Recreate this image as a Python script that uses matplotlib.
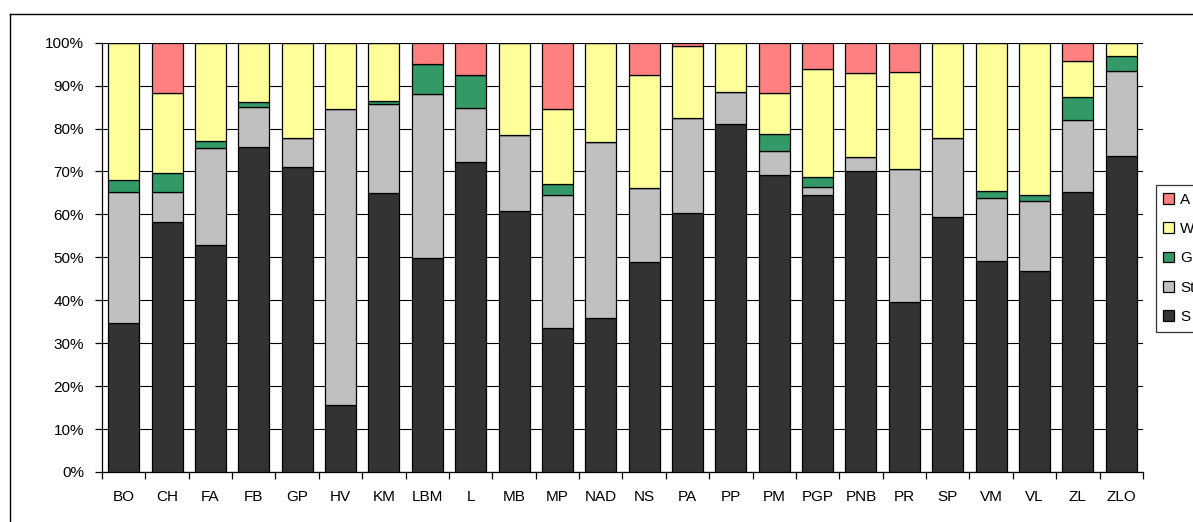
import numpy as np
import matplotlib
matplotlib.use("Agg")
import matplotlib.pyplot as plt
from matplotlib.lines import Line2D
from matplotlib.ticker import PercentFormatter

plt.rcParams['font.family'] = ['Liberation Sans', 'DejaVu Sans']

# Site codes along the x axis
sites = ['BO', 'CH', 'FA', 'FB', 'GP', 'HV', 'KM', 'LBM', 'L', 'MB', 'MP', 'NAD',
         'NS', 'PA', 'PP', 'PM', 'PGP', 'PNB', 'PR', 'SP', 'VM', 'VL', 'ZL', 'ZLO']

# Share of each class per site (percent, stacked bottom to top)
s_vals  = [34.8, 58.2, 52.8, 75.6, 71.0, 15.5, 64.9, 49.9, 72.3, 60.7, 33.6, 35.8,
           49.0, 60.4, 81.0, 69.1, 64.6, 70.0, 39.7, 59.5, 49.2, 46.9, 65.3, 73.7]
st_vals = [30.4, 7.0, 22.7, 9.5, 6.7, 69.1, 20.9, 38.2, 12.5, 17.7, 31.0, 41.0,
           17.2, 22.1, 7.4, 5.7, 1.8, 3.3, 30.9, 18.3, 14.6, 16.3, 16.6, 19.8]
g_vals  = [2.8, 4.4, 1.7, 1.1, 0.0, 0.0, 0.7, 7.0, 7.7, 0.0, 2.6, 0.0,
           0.0, 0.0, 0.0, 3.9, 2.4, 0.0, 0.0, 0.0, 1.7, 1.4, 5.5, 3.3]
w_vals  = [32.0, 18.7, 22.8, 13.8, 22.3, 15.4, 13.5, 0.0, 0.0, 21.6, 17.3, 23.2,
           26.3, 16.8, 11.6, 9.6, 25.1, 19.6, 22.6, 22.2, 34.5, 35.4, 8.4, 3.2]
a_vals  = [0.0, 11.7, 0.0, 0.0, 0.0, 0.0, 0.0, 4.9, 7.5, 0.0, 15.5, 0.0,
           7.5, 0.7, 0.0, 11.7, 6.1, 7.1, 6.8, 0.0, 0.0, 0.0, 4.2, 0.0]

series_names = ['S', 'St', 'G', 'W', 'A']
series_colors = ['#333333', '#C0C0C0', '#339966', '#FFFF99', '#FF8080']

data = np.array([s_vals, st_vals, g_vals, w_vals, a_vals]) / 100.0

fig = plt.figure(figsize=(11.93, 5.22), dpi=100)
ax = fig.add_axes([0.0855, 0.0958, 0.8725, 0.8224])

x = np.arange(len(sites))
bottom = np.zeros(len(sites))
for vals, name, col in zip(data, series_names, series_colors):
    ax.bar(x, vals, width=0.715, bottom=bottom, color=col,
           edgecolor='black', linewidth=0.9, label=name, zorder=3)
    bottom += vals

ax.set_xlim(-0.5, len(sites) - 0.5)
ax.set_ylim(0, 1)

# horizontal gridlines every 10%
ax.set_yticks(np.arange(0, 1.01, 0.1))
ax.yaxis.set_major_formatter(PercentFormatter(1.0, decimals=0))
ax.grid(axis='y', color='black', linewidth=0.8, zorder=0)
ax.set_axisbelow(True)

# category labels centred, tick marks between categories
ax.set_xticks(x)
ax.set_xticklabels(sites)
ax.set_xticks(np.arange(-0.5, len(sites)), minor=True)
ax.tick_params(axis='x', which='major', length=0, pad=13, labelsize=11)
ax.tick_params(axis='x', which='minor', length=5, width=0.9, direction='out')
ax.tick_params(axis='y', length=5, width=0.9, direction='out', pad=8, labelsize=11)

for side in ['top', 'right']:
    ax.spines[side].set_visible(False)
for side in ['left', 'bottom']:
    ax.spines[side].set_linewidth(0.9)
    ax.spines[side].set_color('black')

# legend on the right, top entry = last series
handles, labels = ax.get_legend_handles_labels()
leg = fig.legend(handles[::-1], labels[::-1], loc='center left',
                 bbox_to_anchor=(0.9687, 0.505), fontsize=11,
                 frameon=True, fancybox=False, edgecolor='black',
                 handlelength=0.7, handleheight=0.7, handletextpad=0.4,
                 labelspacing=1.0, borderpad=0.5, borderaxespad=0)
leg.get_frame().set_linewidth(0.9)

# chart area border (left and top edges)
W, H = 1193.0, 522.0
fig.add_artist(Line2D([9.5 / W, 9.5 / W], [0, 1 - 14 / H], color='black',
                      linewidth=1.0, transform=fig.transFigure))
fig.add_artist(Line2D([9.5 / W, 1], [1 - 14 / H, 1 - 14 / H], color='black',
                      linewidth=1.0, transform=fig.transFigure))

fig.savefig('out.png', dpi=100)
